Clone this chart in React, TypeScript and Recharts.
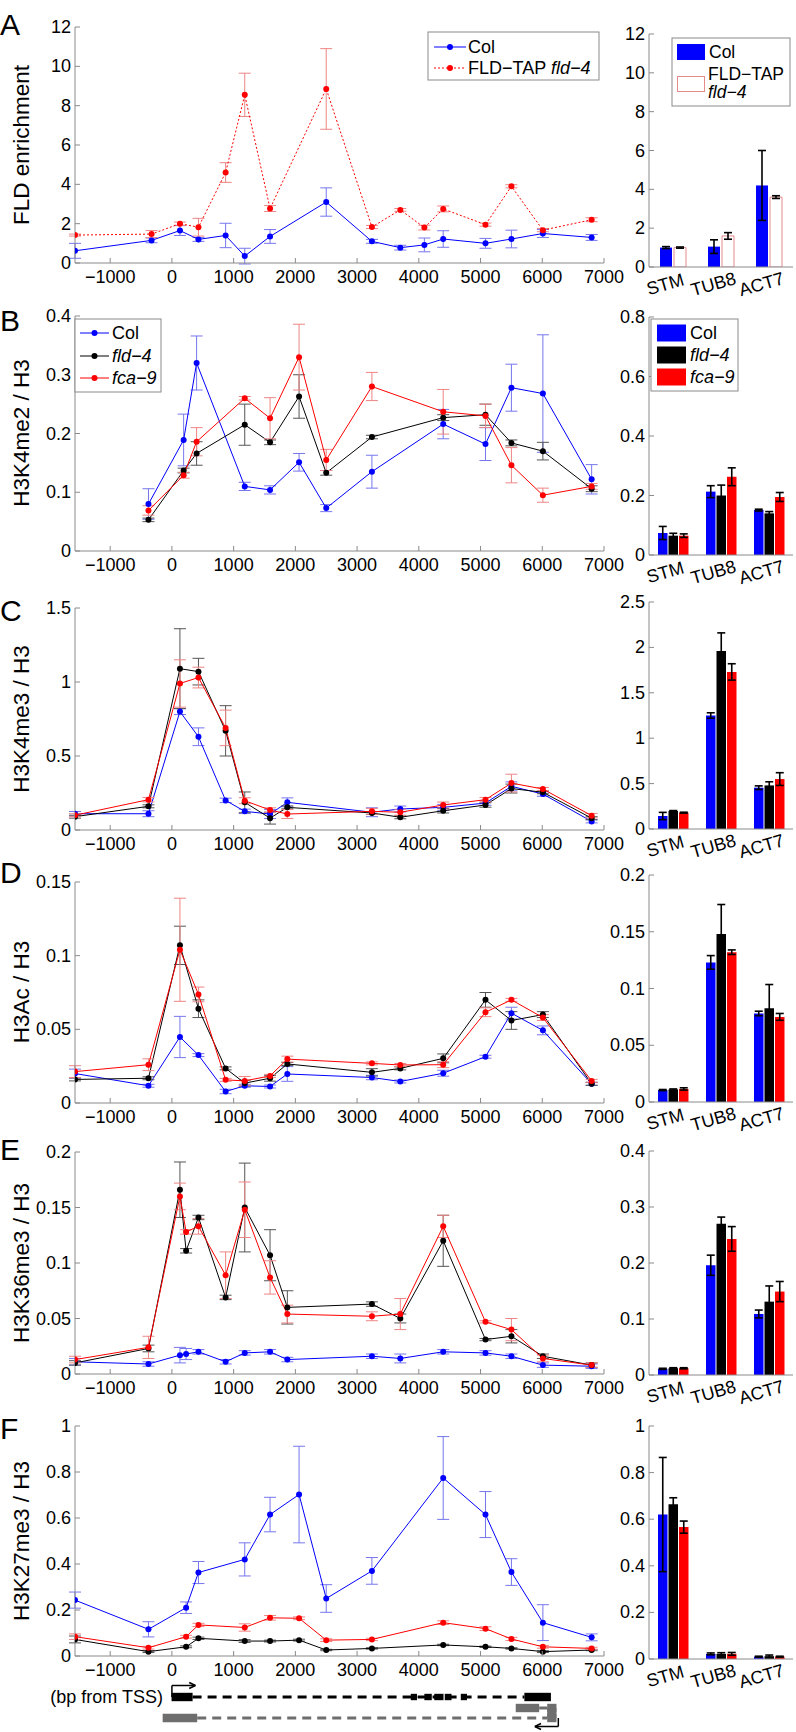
import React from "react";
import {
  Bar,
  BarChart,
  ErrorBar,
  Line,
  LineChart,
  ReferenceArea,
  ReferenceLine,
  XAxis,
  YAxis,
} from "recharts";

const FONT = '"Liberation Sans", Arial, Helvetica, sans-serif';
const AXIS = "#8a8a8a";
const BLUE = "#0000ff";
const BLACK = "#000000";
const RED = "#ff0000";
const BLUE_ERR = "#7676ee";
const BLACK_ERR = "#555555";
const RED_ERR = "#ee8585";
const GRAY = "#6e6e6e";

// shared axes
const xTicks = [-1000, 0, 1000, 2000, 3000, 4000, 5000, 6000, 7000];
const xDomain = [-1570, 7000];
const genes = ["STM", "TUB8", "ACT7"];

// A: FLD enrichment
const posA = [-1570, -330, 130, 430, 870, 1180, 1590, 2500, 3240, 3700, 4090, 4395, 5080, 5500, 6010, 6800];
const colA = [0.62, 1.15, 1.65, 1.2, 1.4, 0.35, 1.35, 3.1, 1.1, 0.78, 0.92, 1.22, 1.0, 1.22, 1.5, 1.3];
const colAErr = [0.38, 0.12, 0.25, 0.1, 0.62, 0.4, 0.35, 0.72, 0.1, 0.12, 0.35, 0.42, 0.25, 0.45, 0.2, 0.15];
const tapA = [1.42, 1.47, 2.0, 1.82, 4.6, 8.55, 2.77, 8.85, 1.83, 2.7, 1.8, 2.75, 1.95, 3.9, 1.67, 2.2];
const tapAErr = [0.05, 0.18, 0.08, 0.45, 0.5, 1.1, 0.15, 2.05, 0.08, 0.07, 0.12, 0.15, 0.08, 0.08, 0.08, 0.1];
const colBarA = [1.0, 1.05, 4.2];
const colBarAErr = [0.05, 0.35, 1.8];
const tapBarA = [1.0, 1.6, 3.6];
const tapBarAErr = [0.03, 0.17, 0.07];

// B: H3K4me2 / H3
const posB = [-380, 190, 400, 1180, 1590, 2060, 2500, 3240, 4395, 5080, 5500, 6010, 6800];
const colB = [0.08, 0.189, 0.32, 0.11, 0.104, 0.151, 0.073, 0.135, 0.216, 0.182, 0.278, 0.268, 0.122];
const colBErr = [0.026, 0.044, 0.046, 0.007, 0.007, 0.015, 0.006, 0.028, 0.025, 0.028, 0.04, 0.1, 0.025];
const fldB = [0.053, 0.137, 0.166, 0.215, 0.185, 0.263, 0.133, 0.194, 0.227, 0.232, 0.184, 0.17, 0.106];
const fldBErr = [0.003, 0.004, 0.02, 0.035, 0.004, 0.037, 0.004, 0.003, 0.005, 0.018, 0.005, 0.015, 0.005];
const fcaB = [0.069, 0.129, 0.186, 0.26, 0.226, 0.33, 0.155, 0.28, 0.237, 0.23, 0.146, 0.095, 0.11];
const fcaBErr = [0.008, 0.005, 0.024, 0.003, 0.035, 0.056, 0.018, 0.024, 0.038, 0.02, 0.03, 0.012, 0.005];
const colBarB = [0.074, 0.213, 0.151];
const colBarBErr = [0.022, 0.02, 0.003];
const fldBarB = [0.065, 0.2, 0.14];
const fldBarBErr = [0.008, 0.035, 0.006];
const fcaBarB = [0.065, 0.263, 0.195];
const fcaBarBErr = [0.006, 0.03, 0.015];

// C: H3K4me3 / H3
const posC = [-1570, -380, 130, 430, 870, 1180, 1590, 1870, 3240, 3700, 4395, 5080, 5500, 6010, 6800];
const colC = [0.11, 0.11, 0.8, 0.63, 0.2, 0.126, 0.108, 0.187, 0.12, 0.142, 0.153, 0.182, 0.295, 0.243, 0.058];
const colCErr = [0.015, 0.02, 0.02, 0.06, 0.015, 0.015, 0.03, 0.03, 0.03, 0.02, 0.02, 0.015, 0.03, 0.015, 0.01];
const fldC = [0.09, 0.16, 1.09, 1.07, 0.67, 0.187, 0.08, 0.153, 0.115, 0.086, 0.13, 0.169, 0.28, 0.255, 0.08];
const fldCErr = [0.01, 0.01, 0.27, 0.09, 0.17, 0.07, 0.04, 0.01, 0.01, 0.01, 0.015, 0.015, 0.03, 0.01, 0.01];
const fcaC = [0.1, 0.205, 0.99, 1.03, 0.69, 0.198, 0.135, 0.108, 0.126, 0.12, 0.169, 0.205, 0.317, 0.277, 0.097];
const fcaCErr = [0.01, 0.015, 0.16, 0.07, 0.12, 0.02, 0.015, 0.03, 0.02, 0.02, 0.02, 0.015, 0.06, 0.01, 0.015];
const colBarC = [0.143, 1.25, 0.455];
const colBarCErr = [0.04, 0.03, 0.02];
const fldBarC = [0.198, 1.96, 0.48];
const fldBarCErr = [0.005, 0.2, 0.04];
const fcaBarC = [0.18, 1.73, 0.55];
const fcaBarCErr = [0.005, 0.09, 0.07];

// D: H3Ac / H3
const posD = [-1570, -380, 130, 430, 870, 1180, 1590, 1870, 3240, 3700, 4395, 5080, 5500, 6010, 6800];
const colD = [0.02, 0.0117, 0.0448, 0.0325, 0.0078, 0.0117, 0.0112, 0.0197, 0.0173, 0.0146, 0.0202, 0.0314, 0.061, 0.0493, 0.013];
const colDErr = [0.003, 0.001, 0.014, 0.001, 0.0015, 0.001, 0.001, 0.005, 0.0015, 0.001, 0.002, 0.001, 0.004, 0.003, 0.001];
const fldD = [0.016, 0.0168, 0.107, 0.064, 0.0235, 0.0135, 0.0168, 0.0265, 0.0208, 0.0235, 0.0303, 0.07, 0.056, 0.06, 0.013];
const fldDErr = [0.001, 0.001, 0.013, 0.006, 0.001, 0.002, 0.002, 0.001, 0.0025, 0.001, 0.003, 0.005, 0.006, 0.002, 0.001];
const fcaD = [0.0213, 0.026, 0.104, 0.0737, 0.0157, 0.015, 0.0184, 0.0298, 0.0269, 0.0258, 0.026, 0.0616, 0.07, 0.058, 0.015];
const fcaDErr = [0.004, 0.004, 0.035, 0.005, 0.001, 0.003, 0.001, 0.002, 0.001, 0.001, 0.002, 0.003, 0.001, 0.002, 0.001];
const colBarD = [0.0105, 0.123, 0.078];
const colBarDErr = [0.0005, 0.006, 0.002];
const fldBarD = [0.011, 0.148, 0.0825];
const fldBarDErr = [0.0005, 0.026, 0.021];
const fcaBarD = [0.0115, 0.132, 0.075];
const fcaBarDErr = [0.001, 0.002, 0.003];

// E: H3K36me3 / H3
const posE = [-1570, -380, 130, 230, 430, 870, 1180, 1590, 1870, 3240, 3700, 4395, 5080, 5500, 6010, 6800];
const colE = [0.011, 0.009, 0.017, 0.018, 0.02, 0.011, 0.019, 0.02, 0.013, 0.016, 0.014, 0.02, 0.019, 0.016, 0.008, 0.007];
const colEErr = [0.003, 0.002, 0.007, 0.005, 0.002, 0.002, 0.002, 0.002, 0.002, 0.002, 0.004, 0.002, 0.002, 0.002, 0.002, 0.002];
const fldE = [0.01, 0.023, 0.166, 0.111, 0.141, 0.069, 0.15, 0.107, 0.06, 0.063, 0.05, 0.12, 0.031, 0.034, 0.016, 0.008];
const fldEErr = [0.002, 0.003, 0.025, 0.002, 0.002, 0.002, 0.04, 0.023, 0.015, 0.002, 0.004, 0.023, 0.001, 0.006, 0.002, 0.002];
const fcaE = [0.013, 0.024, 0.16, 0.128, 0.133, 0.089, 0.148, 0.087, 0.054, 0.052, 0.054, 0.133, 0.047, 0.04, 0.014, 0.008];
const fcaEErr = [0.003, 0.01, 0.012, 0.002, 0.007, 0.021, 0.025, 0.015, 0.008, 0.004, 0.014, 0.01, 0.001, 0.01, 0.003, 0.002];
const colBarE = [0.011, 0.196, 0.109];
const colBarEErr = [0.001, 0.018, 0.007];
const fldBarE = [0.012, 0.27, 0.131];
const fldBarEErr = [0.001, 0.012, 0.028];
const fcaBarE = [0.012, 0.243, 0.149];
const fcaBarEErr = [0.001, 0.022, 0.018];

// F: H3K27me3 / H3
const posF = [-1570, -380, 230, 430, 1180, 1590, 2060, 2500, 3240, 4395, 5080, 5500, 6010, 6800];
const colF = [0.243, 0.116, 0.21, 0.363, 0.42, 0.615, 0.702, 0.25, 0.37, 0.774, 0.615, 0.365, 0.145, 0.081];
const colFErr = [0.035, 0.033, 0.025, 0.048, 0.072, 0.075, 0.21, 0.06, 0.058, 0.18, 0.1, 0.058, 0.078, 0.015];
const fldF = [0.072, 0.019, 0.04, 0.077, 0.065, 0.065, 0.069, 0.026, 0.033, 0.048, 0.04, 0.033, 0.019, 0.026];
const fldFErr = [0.015, 0.004, 0.004, 0.005, 0.006, 0.004, 0.004, 0.003, 0.003, 0.003, 0.003, 0.003, 0.004, 0.003];
const fcaF = [0.084, 0.036, 0.084, 0.135, 0.124, 0.166, 0.164, 0.069, 0.072, 0.145, 0.119, 0.074, 0.04, 0.033];
const fcaFErr = [0.012, 0.006, 0.006, 0.007, 0.016, 0.01, 0.006, 0.006, 0.005, 0.008, 0.008, 0.007, 0.006, 0.005];
const colBarF = [0.62, 0.022, 0.01];
const colBarFErr = [0.245, 0.004, 0.002];
const fldBarF = [0.664, 0.022, 0.012];
const fldBarFErr = [0.028, 0.005, 0.005];
const fcaBarF = [0.566, 0.022, 0.01];
const fcaBarFErr = [0.026, 0.006, 0.002];

// gene model (bp from TSS)
const senseExons = [[-6, 335], [5710, 6140]];
const smallExons = [[3870, 3970], [4090, 4210], [4250, 4400], [4420, 4530], [4680, 4780]];
const senseIntron = [335, 5710];
const anti1Exons = [[5570, 5950], [6080, 6230]];
const anti1Intron = [5950, 6080];
const anti2Exons = [[-150, 410], [6080, 6230]];
const anti2Intron = [410, 6080];

function threeTable(pos, col, colErr, fld, fldErr, fca, fcaErr) {
  return pos.map((x, i) => ({
    x,
    col: col[i],
    colErr: colErr[i],
    fld: fld[i],
    fldErr: fldErr[i],
    fca: fca[i],
    fcaErr: fcaErr[i],
  }));
}

function barTable(col, colErr, fld, fldErr, fca, fcaErr) {
  return genes.map((gene, i) => ({
    gene,
    col: col[i],
    colErr: colErr[i],
    fld: fld[i],
    fldErr: fldErr[i],
    fca: fca ? fca[i] : undefined,
    fcaErr: fcaErr ? fcaErr[i] : undefined,
  }));
}

const tableA = posA.map((x, i) => ({ x, col: colA[i], colErr: colAErr[i], fld: tapA[i], fldErr: tapAErr[i] }));
const tableB = threeTable(posB, colB, colBErr, fldB, fldBErr, fcaB, fcaBErr);
const tableC = threeTable(posC, colC, colCErr, fldC, fldCErr, fcaC, fcaCErr);
const tableD = threeTable(posD, colD, colDErr, fldD, fldDErr, fcaD, fcaDErr);
const tableE = threeTable(posE, colE, colEErr, fldE, fldEErr, fcaE, fcaEErr);
const tableF = threeTable(posF, colF, colFErr, fldF, fldFErr, fcaF, fcaFErr);

const barsA = barTable(colBarA, colBarAErr, tapBarA, tapBarAErr, null, null);
const barsB = barTable(colBarB, colBarBErr, fldBarB, fldBarBErr, fcaBarB, fcaBarBErr);
const barsC = barTable(colBarC, colBarCErr, fldBarC, fldBarCErr, fcaBarC, fcaBarCErr);
const barsD = barTable(colBarD, colBarDErr, fldBarD, fldBarDErr, fcaBarD, fcaBarDErr);
const barsE = barTable(colBarE, colBarEErr, fldBarE, fldBarEErr, fcaBarE, fcaBarEErr);
const barsF = barTable(colBarF, colBarFErr, fldBarF, fldBarFErr, fcaBarF, fcaBarFErr);

const lineSeries3 = [
  { key: "col", color: BLUE, errColor: BLUE_ERR },
  { key: "fld", color: BLACK, errColor: BLACK_ERR },
  { key: "fca", color: RED, errColor: RED_ERR },
];
const lineSeriesA = [
  { key: "col", color: BLUE, errColor: BLUE_ERR },
  { key: "fld", color: RED, errColor: RED_ERR, dashed: true },
];
const barSeries3 = [
  { key: "col", fill: BLUE },
  { key: "fld", fill: BLACK },
  { key: "fca", fill: RED },
];
const barSeriesA = [
  { key: "col", fill: BLUE },
  { key: "fld", fill: "#ffffff", stroke: "#e48c8c" },
];

function fmt(v: number) {
  return v < 0 ? "\u2212" + Math.abs(v) : String(v);
}

function XTickMark(props: any) {
  const { x, y, payload } = props;
  return (
    <g>
      <line x1={x} y1={y} x2={x} y2={y - 5} stroke={AXIS} />
      <text x={x} y={y + 20} textAnchor="middle" fontSize={18} fontFamily={FONT} fill="#000">
        {fmt(payload.value)}
      </text>
    </g>
  );
}

function YTickMark(props: any) {
  const { x, y, payload } = props;
  return (
    <g>
      <line x1={x} y1={y} x2={x + 5} y2={y} stroke={AXIS} />
      <text x={x - 4} y={y + 6} textAnchor="end" fontSize={18} fontFamily={FONT} fill="#000">
        {fmt(payload.value)}
      </text>
    </g>
  );
}

function GeneTick(props: any) {
  const { x, y, payload } = props;
  return (
    <text
      transform={`translate(${x - 6}, ${y + 23}) rotate(-16)`}
      textAnchor="middle"
      fontSize={18}
      fontFamily={FONT}
      fill="#000"
    >
      {payload.value}
    </text>
  );
}

function LinePanel({ plotTop, plotBottom, yMax, yTicks, data, series }: any) {
  const mTop = 12;
  const axisH = 32;
  const h = plotBottom - plotTop + mTop + axisH;
  return (
    <div style={{ position: "absolute", left: 0, top: plotTop - mTop }}>
      <LineChart width={640} height={h} data={data} margin={{ top: mTop, right: 36, bottom: 0, left: 0 }}>
        <XAxis
          type="number"
          dataKey="x"
          domain={xDomain}
          ticks={xTicks}
          allowDataOverflow
          interval={0}
          height={axisH}
          tickSize={0}
          tickMargin={0}
          tickLine={false}
          axisLine={{ stroke: AXIS }}
          tick={<XTickMark />}
        />
        <YAxis
          type="number"
          domain={[0, yMax]}
          ticks={yTicks}
          allowDataOverflow
          interval={0}
          width={75}
          tickSize={0}
          tickMargin={0}
          tickLine={false}
          axisLine={{ stroke: AXIS }}
          tick={<YTickMark />}
        />
        {series.map((s: any) => (
          <Line
            key={s.key}
            type="linear"
            dataKey={s.key}
            stroke={s.color}
            strokeWidth={1}
            strokeDasharray={s.dashed ? "2 2" : undefined}
            dot={{ r: 3, fill: s.color, stroke: s.color, strokeWidth: 0 }}
            isAnimationActive={false}
          >
            <ErrorBar dataKey={s.key + "Err"} width={6} stroke={s.errColor} strokeWidth={1} direction="y" />
          </Line>
        ))}
      </LineChart>
    </div>
  );
}

function BarPanel({ plotTop, plotBottom, yMax, yTicks, data, series, barSize, barGap }: any) {
  const mTop = 12;
  const axisH = 40;
  const h = plotBottom - plotTop + mTop + axisH;
  return (
    <div style={{ position: "absolute", left: 600, top: plotTop - mTop }}>
      <BarChart
        width={196}
        height={h}
        data={data}
        barGap={barGap}
        margin={{ top: mTop, right: 3, bottom: 0, left: 0 }}
      >
        <XAxis
          dataKey="gene"
          height={axisH}
          interval={0}
          tickSize={0}
          tickMargin={0}
          tickLine={false}
          axisLine={{ stroke: AXIS }}
          tick={<GeneTick />}
        />
        <YAxis
          type="number"
          domain={[0, yMax]}
          ticks={yTicks}
          allowDataOverflow
          interval={0}
          width={49}
          tickSize={0}
          tickMargin={0}
          tickLine={false}
          axisLine={{ stroke: AXIS }}
          tick={<YTickMark />}
        />
        {series.map((s: any) => (
          <Bar
            key={s.key}
            dataKey={s.key}
            fill={s.fill}
            stroke={s.stroke}
            strokeWidth={s.stroke ? 1 : 0}
            barSize={barSize}
            isAnimationActive={false}
          >
            <ErrorBar dataKey={s.key + "Err"} width={4} stroke="#000" strokeWidth={1.6} direction="y" />
          </Bar>
        ))}
      </BarChart>
    </div>
  );
}

function GeneModel() {
  const rowSense = 3.3;
  const rowAnti1 = 2.2;
  const rowAnti2 = 1.2;
  return (
    <div style={{ position: "absolute", left: 0, top: 1680 }}>
      <LineChart width={620} height={52} data={[]} margin={{ top: 0, right: 16, bottom: 2, left: 75 }}>
        <XAxis type="number" dataKey="x" domain={xDomain} allowDataOverflow hide />
        <YAxis type="number" domain={[0, 5]} allowDataOverflow hide />
        <ReferenceLine
          segment={[{ x: senseIntron[0], y: rowSense }, { x: senseIntron[1], y: rowSense }]}
          stroke="#000"
          strokeWidth={3}
          strokeDasharray="9 6"
        />
        {senseExons.map(([a, b]) => (
          <ReferenceArea key={"s" + a} x1={a} x2={b} y1={rowSense - 0.42} y2={rowSense + 0.42} fill="#000" fillOpacity={1} />
        ))}
        {smallExons.map(([a, b]) => (
          <ReferenceArea key={"m" + a} x1={a} x2={b} y1={rowSense - 0.32} y2={rowSense + 0.32} fill="#000" fillOpacity={1} />
        ))}
        <ReferenceLine segment={[{ x: 0, y: rowSense }, { x: 0, y: 4.45 }]} stroke="#000" strokeWidth={1.5} />
        <ReferenceLine segment={[{ x: 0, y: 4.45 }, { x: 380, y: 4.45 }]} stroke="#000" strokeWidth={1.5} />
        <ReferenceLine segment={[{ x: 380, y: 4.45 }, { x: 280, y: 4.75 }]} stroke="#000" strokeWidth={1.5} />
        <ReferenceLine segment={[{ x: 380, y: 4.45 }, { x: 280, y: 4.15 }]} stroke="#000" strokeWidth={1.5} />

        <ReferenceLine
          segment={[{ x: anti1Intron[0], y: rowAnti1 }, { x: anti1Intron[1], y: rowAnti1 }]}
          stroke={GRAY}
          strokeWidth={3}
        />
        {anti1Exons.map(([a, b]) => (
          <ReferenceArea key={"a" + a} x1={a} x2={b} y1={rowAnti1 - 0.42} y2={rowAnti1 + 0.42} fill={GRAY} fillOpacity={1} />
        ))}
        <ReferenceLine
          segment={[{ x: anti2Intron[0], y: rowAnti2 }, { x: anti2Intron[1], y: rowAnti2 }]}
          stroke={GRAY}
          strokeWidth={3}
          strokeDasharray="9 6"
        />
        {anti2Exons.map(([a, b]) => (
          <ReferenceArea key={"b" + a} x1={a} x2={b} y1={rowAnti2 - 0.42} y2={rowAnti2 + 0.42} fill={GRAY} fillOpacity={1} />
        ))}
        <ReferenceArea x1={6080} x2={6230} y1={rowAnti2} y2={rowAnti1} fill={GRAY} fillOpacity={1} />
        <ReferenceLine segment={[{ x: 6260, y: rowAnti2 }, { x: 6260, y: 0.35 }]} stroke="#000" strokeWidth={1.5} />
        <ReferenceLine segment={[{ x: 6260, y: 0.35 }, { x: 5880, y: 0.35 }]} stroke="#000" strokeWidth={1.5} />
        <ReferenceLine segment={[{ x: 5880, y: 0.35 }, { x: 5980, y: 0.65 }]} stroke="#000" strokeWidth={1.5} />
        <ReferenceLine segment={[{ x: 5880, y: 0.35 }, { x: 5980, y: 0.05 }]} stroke="#000" strokeWidth={1.5} />
      </LineChart>
    </div>
  );
}

const txt = { fontFamily: FONT, fill: "#000" };

function Overlay() {
  const letters = [
    ["A", 35],
    ["B", 331],
    ["C", 621],
    ["D", 883],
    ["E", 1160],
    ["F", 1439],
  ];
  const ylabels = [
    ["FLD enrichment", 145],
    ["H3K4me2 / H3", 433],
    ["H3K4me3 / H3", 719],
    ["H3Ac / H3", 992],
    ["H3K36me3 / H3", 1263],
    ["H3K27me3 / H3", 1541],
  ];
  return (
    <svg
      width={796}
      height={1732}
      style={{ position: "absolute", left: 0, top: 0, pointerEvents: "none" }}
    >
      {letters.map(([t, y]) => (
        <text key={t as string} x={0} y={y as number} fontSize={30} {...txt}>
          {t}
        </text>
      ))}
      {ylabels.map(([t, y]) => (
        <text
          key={t as string}
          x={29}
          y={y as number}
          fontSize={22.5}
          textAnchor="middle"
          transform={`rotate(-90, 29, ${y})`}
          {...txt}
        >
          {t}
        </text>
      ))}

      {/* A line legend */}
      <rect x={428} y={32} width={171} height={48} fill="#fff" stroke={AXIS} />
      <line x1={434} y1={47} x2={466} y2={47} stroke={BLUE} />
      <circle cx={450} cy={47} r={3} fill={BLUE} />
      <text x={468} y={53} fontSize={18} {...txt}>Col</text>
      <line x1={434} y1={68} x2={466} y2={68} stroke={RED} strokeDasharray="2 2" />
      <circle cx={450} cy={68} r={3} fill={RED} />
      <text x={468} y={74} fontSize={18} {...txt}>
        FLD{"\u2212"}TAP <tspan fontStyle="italic">fld{"\u2212"}4</tspan>
      </text>

      {/* A bar legend */}
      <rect x={672} y={38} width={118} height={68} fill="#fff" stroke={AXIS} />
      <rect x={677} y={44} width={28} height={16} fill={BLUE} />
      <text x={709} y={58} fontSize={17.5} {...txt}>Col</text>
      <rect x={677.5} y={76.5} width={27} height={15} fill="#fff" stroke="#e48c8c" />
      <text x={708} y={80} fontSize={17.5} {...txt}>FLD{"\u2212"}TAP</text>
      <text x={708} y={98} fontSize={17.5} fontStyle="italic" {...txt}>fld{"\u2212"}4</text>

      {/* B line legend */}
      <rect x={75} y={319} width={86} height={73} fill="#fff" stroke={AXIS} />
      {[
        [BLUE, "Col", false, 333],
        [BLACK, "fld\u22124", true, 356],
        [RED, "fca\u22129", true, 378],
      ].map(([c, t, it, y]) => (
        <g key={t as string}>
          <line x1={80} y1={y as number} x2={109} y2={y as number} stroke={c as string} />
          <circle cx={94.5} cy={y as number} r={3} fill={c as string} />
          <text x={112} y={(y as number) + 6} fontSize={18} fontStyle={it ? "italic" : "normal"} {...txt}>
            {t}
          </text>
        </g>
      ))}

      {/* B bar legend */}
      <rect x={651} y={319} width={87} height={72} fill="#fff" stroke={AXIS} />
      {[
        [BLUE, "Col", false, 333],
        [BLACK, "fld\u22124", true, 355],
        [RED, "fca\u22129", true, 377],
      ].map(([c, t, it, y]) => (
        <g key={t as string}>
          <rect x={657} y={(y as number) - 8.5} width={29} height={17} fill={c as string} />
          <text x={690} y={(y as number) + 6} fontSize={18} fontStyle={it ? "italic" : "normal"} {...txt}>
            {t}
          </text>
        </g>
      ))}

      <text x={163} y={1703} fontSize={18} textAnchor="end" {...txt}>
        (bp from TSS)
      </text>
    </svg>
  );
}

export default function App() {
  return (
    <div
      style={{
        position: "absolute",
        left: 0,
        top: 0,
        width: 796,
        height: 1732,
        background: "#fff",
        fontFamily: FONT,
        overflow: "hidden",
      }}
    >
      <LinePanel plotTop={27} plotBottom={263} yMax={12} yTicks={[0, 2, 4, 6, 8, 10, 12]} data={tableA} series={lineSeriesA} />
      <LinePanel plotTop={316} plotBottom={551} yMax={0.4} yTicks={[0, 0.1, 0.2, 0.3, 0.4]} data={tableB} series={lineSeries3} />
      <LinePanel plotTop={608} plotBottom={830} yMax={1.5} yTicks={[0, 0.5, 1, 1.5]} data={tableC} series={lineSeries3} />
      <LinePanel plotTop={882} plotBottom={1103} yMax={0.15} yTicks={[0, 0.05, 0.1, 0.15]} data={tableD} series={lineSeries3} />
      <LinePanel plotTop={1152} plotBottom={1374} yMax={0.2} yTicks={[0, 0.05, 0.1, 0.15, 0.2]} data={tableE} series={lineSeries3} />
      <LinePanel plotTop={1426} plotBottom={1656} yMax={1} yTicks={[0, 0.2, 0.4, 0.6, 0.8, 1]} data={tableF} series={lineSeries3} />

      <BarPanel plotTop={34} plotBottom={267} yMax={12} yTicks={[0, 2, 4, 6, 8, 10, 12]} data={barsA} series={barSeriesA} barSize={12} barGap={2} />
      <BarPanel plotTop={317} plotBottom={555} yMax={0.8} yTicks={[0, 0.2, 0.4, 0.6, 0.8]} data={barsB} series={barSeries3} barSize={9.5} barGap={1} />
      <BarPanel plotTop={602} plotBottom={829} yMax={2.5} yTicks={[0, 0.5, 1, 1.5, 2, 2.5]} data={barsC} series={barSeries3} barSize={9.5} barGap={1} />
      <BarPanel plotTop={875} plotBottom={1102} yMax={0.2} yTicks={[0, 0.05, 0.1, 0.15, 0.2]} data={barsD} series={barSeries3} barSize={9.5} barGap={1} />
      <BarPanel plotTop={1151} plotBottom={1375} yMax={0.4} yTicks={[0, 0.1, 0.2, 0.3, 0.4]} data={barsE} series={barSeries3} barSize={9.5} barGap={1} />
      <BarPanel plotTop={1426} plotBottom={1659} yMax={1} yTicks={[0, 0.2, 0.4, 0.6, 0.8, 1]} data={barsF} series={barSeries3} barSize={9.5} barGap={1} />

      <GeneModel />
      <Overlay />
    </div>
  );
}
